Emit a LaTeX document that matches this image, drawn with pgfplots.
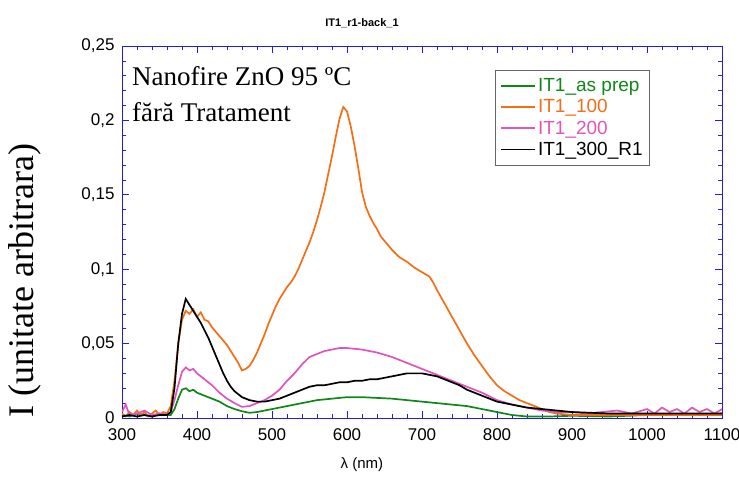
\documentclass[border=0pt]{standalone}
\usepackage{pgfplots}
\pgfplotsset{compat=1.18}
\usepackage{fontspec}
\setmainfont{Liberation Serif}
\newfontfamily\arial{Liberation Sans}
\definecolor{cgreen}{RGB}{15,135,25}
\definecolor{corange}{RGB}{245,110,20}
\definecolor{cpink}{RGB}{222,85,190}
\definecolor{cframe}{RGB}{30,30,220}
\begin{document}
\begin{tikzpicture}
\useasboundingbox (-122pt,-66pt) rectangle (617pt,418pt);
\begin{axis}[
  scale only axis, width=600pt, height=372pt,
  xmin=300, xmax=1100, ymin=0, ymax=0.25,
  xtick={300,400,...,1100}, ytick={0,0.05,0.1,0.15,0.2,0.25},
  minor x tick num=4, minor y tick num=4,
  axis line style={cframe, line width=0.8pt},
  tick style={cframe, line width=0.6pt},
  major tick length=7pt, minor tick length=4pt,
  tick align=inside,
  ticklabel style={font=\arial\fontsize{17}{19}\selectfont},
  /pgf/number format/assume math mode=true,
  /pgf/number format/use comma,
  /pgf/number format/1000 sep={},
  yticklabel style={/pgf/number format/fixed, /pgf/number format/precision=2, xshift=-4pt},
  xticklabel style={yshift=-7pt},
  title={IT1\_r1-back\_1},
  title style={font=\arial\bfseries\fontsize{11}{13}\selectfont, at={(axis description cs:0.4,1)}, anchor=center, yshift=17pt},
  xlabel={λ (nm)},
  xlabel style={font=\arial\fontsize{15}{17}\selectfont, at={(axis description cs:0.4,0)}, anchor=center, yshift=-47pt},
  ylabel={I (unitate arbitrara)},
  ylabel style={font=\fontsize{36}{40}\selectfont, at={(axis description cs:-0.162,0.37)}, anchor=center},
  legend style={at={(axis description cs:0.622,0.935)}, anchor=north west, draw=gray!80!black, line width=0.6pt,
    font=\arial\fontsize{19}{20}\selectfont, inner xsep=5pt, inner ysep=6pt, row sep=2.5pt},
  legend cell align=left,
  legend image code/.code={\draw[#1, line width=1.6pt] (0pt,0pt) -- (34pt,0pt);},
  clip=true,
]
% IT1_as prep
\addplot[cgreen, line width=1.7pt] table {
300 0.002
310 0.001
320 0.003
330 0.002
340 0.001
350 0.003
360 0.002
365 0.002
370 0.006
375 0.013
380 0.019
385 0.020
390 0.018
395 0.019
400 0.017
410 0.015
420 0.013
430 0.011
440 0.008
450 0.006
460 0.0045
470 0.0035
480 0.004
490 0.005
500 0.006
520 0.008
540 0.010
560 0.012
580 0.013
600 0.014
620 0.014
640 0.0135
660 0.013
680 0.012
700 0.011
720 0.010
740 0.009
760 0.008
780 0.006
800 0.004
820 0.002
840 0.001
870 0.001
900 0.0015
950 0.001
1000 0.002
1050 0.002
1100 0.003
};
\addlegendentry{\textcolor{cgreen}{IT1\_as prep}}
% IT1_100
\addplot[corange, line width=1.7pt] table {
300 0.003
305 0.001
310 0.004
315 0.002
320 0.005
325 0.002
330 0.004
335 0.001
340 0.003
345 0.005
350 0.002
355 0.004
360 0.003
365 0.008
370 0.025
375 0.050
380 0.066
385 0.072
390 0.070
395 0.073
400 0.068
405 0.071
410 0.066
415 0.065
420 0.061
425 0.058
430 0.055
435 0.052
440 0.049
445 0.045
450 0.041
455 0.037
460 0.032
465 0.033
470 0.035
475 0.039
480 0.044
485 0.050
490 0.056
495 0.063
500 0.069
505 0.075
510 0.080
515 0.084
520 0.088
525 0.091
530 0.095
535 0.100
540 0.106
545 0.112
550 0.118
555 0.125
560 0.133
565 0.142
570 0.152
575 0.164
580 0.176
585 0.189
590 0.201
595 0.209
600 0.206
605 0.196
610 0.183
615 0.168
620 0.152
625 0.142
630 0.136
635 0.131
640 0.127
645 0.122
650 0.119
660 0.113
670 0.108
680 0.105
690 0.101
700 0.098
710 0.095
715 0.091
720 0.086
730 0.077
740 0.068
750 0.059
760 0.050
770 0.042
780 0.035
790 0.028
800 0.022
810 0.018
820 0.015
830 0.012
840 0.010
850 0.008
860 0.006
870 0.004
880 0.003
900 0.002
950 0.002
1000 0.002
1050 0.002
1100 0.002
};
\addlegendentry{\textcolor{corange}{IT1\_100}}
% IT1_200
\addplot[cpink, line width=1.7pt] table {
300 0.004
305 0.009
310 0.002
320 0.003
330 0.005
340 0.002
350 0.003
360 0.002
365 0.004
370 0.012
375 0.022
380 0.031
385 0.034
390 0.032
395 0.033
400 0.030
410 0.026
420 0.022
430 0.017
440 0.013
450 0.010
460 0.0075
470 0.008
480 0.010
490 0.012
500 0.015
510 0.019
520 0.025
530 0.030
540 0.036
550 0.041
560 0.043
570 0.045
580 0.046
590 0.047
600 0.047
620 0.046
640 0.044
660 0.041
680 0.037
700 0.033
720 0.029
740 0.025
760 0.021
780 0.017
800 0.012
820 0.009
840 0.007
860 0.005
880 0.004
900 0.004
920 0.003
940 0.004
960 0.005
980 0.003
1000 0.006
1010 0.003
1020 0.007
1030 0.004
1040 0.006
1050 0.003
1060 0.007
1070 0.004
1080 0.006
1090 0.003
1100 0.006
};
\addlegendentry{\textcolor{cpink}{IT1\_200}}
% IT1_300_R1
\addplot[black, line width=1.7pt] table {
300 0.001
310 0.002
320 0.001
330 0.002
340 0.001
350 0.002
360 0.002
365 0.004
370 0.020
375 0.050
380 0.070
385 0.080
390 0.076
395 0.072
400 0.068
405 0.064
410 0.059
415 0.054
420 0.048
425 0.042
430 0.036
435 0.030
440 0.025
445 0.021
450 0.018
455 0.016
460 0.014
470 0.012
480 0.011
490 0.011
500 0.012
510 0.013
520 0.015
530 0.017
540 0.019
550 0.021
560 0.022
570 0.022
580 0.023
590 0.024
600 0.024
610 0.025
620 0.025
630 0.026
640 0.026
650 0.027
660 0.028
670 0.029
680 0.030
690 0.030
700 0.030
710 0.029
720 0.028
730 0.026
740 0.024
750 0.022
760 0.019
770 0.017
780 0.015
790 0.013
800 0.011
820 0.009
840 0.007
860 0.006
880 0.005
900 0.004
950 0.003
1000 0.003
1050 0.003
1100 0.003
};
\addlegendentry{IT1\_300\_R1}
\node[anchor=base west, font=\fontsize{27}{30}\selectfont, inner sep=0pt] at (axis description cs:0.0167,0.8925) {Nanofire ZnO 95 ºC};
\node[anchor=base west, font=\fontsize{27}{30}\selectfont, inner sep=0pt] at (axis description cs:0.0167,0.7957) {fără Tratament};
\end{axis}
\end{tikzpicture}
\end{document}
